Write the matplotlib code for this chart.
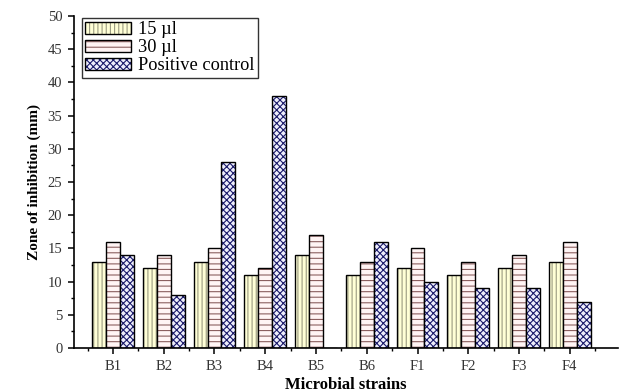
import numpy as np
import matplotlib
matplotlib.use("Agg")
import matplotlib.pyplot as plt
from matplotlib.patches import Patch
from matplotlib.legend_handler import HandlerTuple
from matplotlib.ticker import MultipleLocator, FixedLocator

# valeurs
souches = ["B1", "B2", "B3", "B4", "B5", "B6", "F1", "F2", "F3", "F4"]
vol_15 = [13, 12, 13, 11, 14, 11, 12, 11, 12, 13]
vol_30 = [16, 14, 15, 12, 17, 13, 15, 13, 14, 16]
temoin_pos = [14, 8, 28, 38, 0, 16, 10, 9, 9, 7]
series_labels = ["15 \u00b5l", "30 \u00b5l", "Positive control"]

plt.rcParams["font.family"] = ["Liberation Serif", "DejaVu Serif"]
plt.rcParams["hatch.linewidth"] = 0.8

fig = plt.figure(figsize=(6.23, 3.92), dpi=100)
ax = fig.add_axes([0.119, 0.112, 0.873, 0.847])

x = np.arange(1, len(souches) + 1)
w = 0.275

styles = [
    # couleur de fond, couleur des hachures, hachures
    ("#ffffd6", "#9a9a80", "||||"),
    ("#fff4f4", "#8b5f5f", "---"),
    ("#eeeefc", "#1a1a6a", "xxxxx"),
]
donnees = [vol_15, vol_30, temoin_pos]

handles = []
for i, (vals, (fc, hc, h)) in enumerate(zip(donnees, styles)):
    pos = x + (i - 1) * w
    ax.bar(pos, vals, w, color=fc, edgecolor=hc, hatch=h, linewidth=0)
    ax.bar(pos, vals, w, fill=False, edgecolor="black", linewidth=1.0)
    handles.append((Patch(facecolor=fc, edgecolor=hc, hatch=h, linewidth=0),
                    Patch(fill=False, edgecolor="black", linewidth=1.0)))

ax.set_xlim(0.235, 10.95)
ax.set_ylim(0, 50)
ax.set_xticks(x)
ax.set_xticklabels(souches)
ax.xaxis.set_minor_locator(FixedLocator(np.arange(0.5, 11, 1.0)))
ax.yaxis.set_major_locator(MultipleLocator(5))
ax.yaxis.set_minor_locator(MultipleLocator(2.5))

for s in ["top", "right"]:
    ax.spines[s].set_visible(False)
for s in ["left", "bottom"]:
    ax.spines[s].set_linewidth(1.2)

ax.tick_params(which="major", direction="out", length=4.5, width=1.1,
               labelsize=10.5, labelcolor="#333333", pad=4)
ax.tick_params(which="minor", direction="out", length=2.5, width=1.0)

ax.set_ylabel("Zone of inhibition (mm)", fontsize=11, fontweight="bold", labelpad=5)
ax.set_xlabel("Microbial strains", fontsize=12, fontweight="bold", labelpad=3)

leg = ax.legend(handles, series_labels, handler_map={tuple: HandlerTuple(ndivide=1)},
                loc="upper left", bbox_to_anchor=(0.014, 0.995), fontsize=13.2,
                handlelength=2.5, handleheight=0.65, labelspacing=0.05,
                handletextpad=0.35, borderpad=0.2, borderaxespad=0,
                fancybox=False, framealpha=1)
leg.get_frame().set_edgecolor("#333333")
leg.get_frame().set_linewidth(1.0)

fig.savefig("out.png", dpi=100)
